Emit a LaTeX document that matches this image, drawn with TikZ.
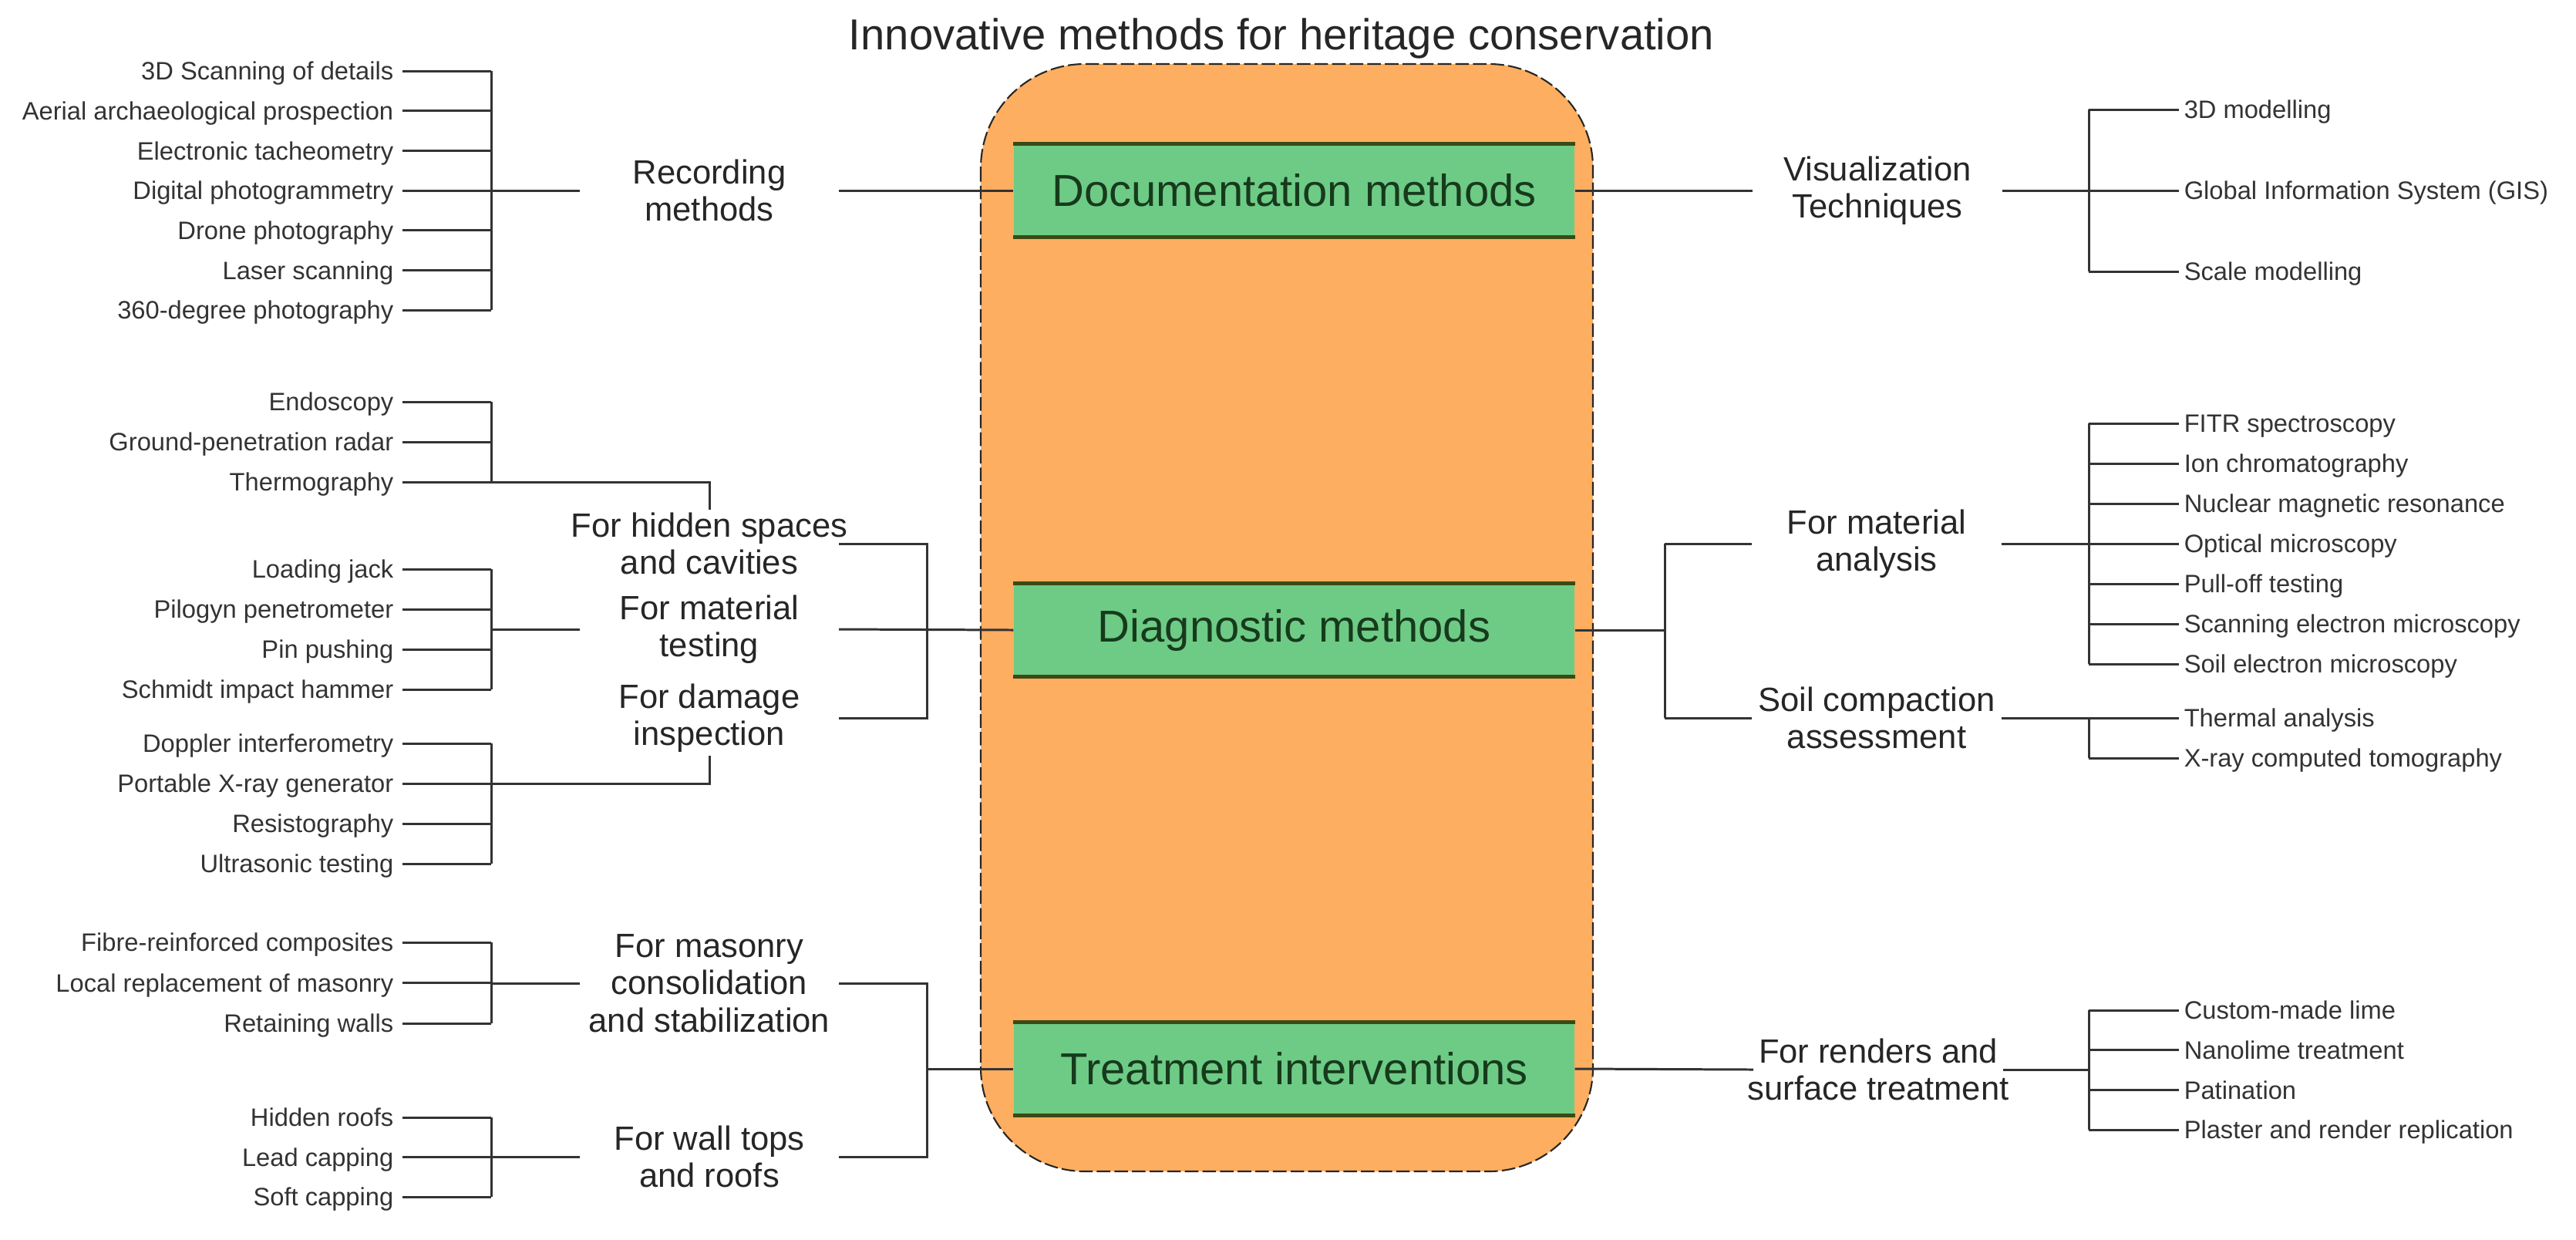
\documentclass[tikz,border=0pt]{standalone}
\usepackage{fontspec}
\setmainfont{Liberation Sans}
\definecolor{apricot}{HTML}{FDAE60}
\definecolor{leafgreen}{HTML}{6DCB86}
\definecolor{moss}{HTML}{3B4A14}
\definecolor{deepgreen}{HTML}{173A1C}
\definecolor{inkgray}{HTML}{333333}
\tikzset{
  % kärna
  hull/.style={draw=black!85,fill=apricot,line width=0.6pt,rounded corners=13.5mm,
               dash pattern=on 5pt off 1.5pt},
  meth/.style={fill=leafgreen,minimum width=7.27cm,minimum height=1.2cm,inner sep=0pt,
               font=\fontsize{16.5}{19}\selectfont,text=deepgreen},
  methedge/.style={draw=moss,line width=1.3pt},
  % grenar
  grp/.style={align=center,inner sep=1pt,font=\fontsize{12.4}{13.8}\selectfont,text=black!85},
  leafl/.style={anchor=east,inner xsep=1.1mm,inner ysep=0pt,text height=6.7pt,text depth=0pt,
                font=\fontsize{9.3}{11}\selectfont,text=black!80},
  leafr/.style={anchor=west,inner xsep=0.6mm,inner ysep=0pt,text height=6.7pt,text depth=0pt,
                font=\fontsize{9.3}{11}\selectfont,text=black!80},
  conn/.style={draw=inkgray,line width=0.85pt},
}
\begin{document}
\begin{tikzpicture}
\useasboundingbox (0,0) rectangle (33.41,-16.07);
  \node[font=\fontsize{16}{19}\selectfont,text=black!85] (title) at (16.62,-0.50) {Innovative methods for heritage conservation};
  \path[hull] (12.72,-0.83) rectangle (20.66,-15.19);
  \node[meth] (doc) at (16.785,-2.47) {Documentation methods};
  \node[meth] (dia) at (16.785,-8.17) {Diagnostic methods};
  \node[meth] (tre) at (16.785,-13.86) {Treatment interventions};
  \foreach \m in {doc,dia,tre}
    \draw[methedge] (\m.north west) -- (\m.north east) (\m.south west) -- (\m.south east);
  \coordinate (lb) at (6.37,0);
  \coordinate (rb) at (27.09,0);
  \coordinate (diab) at (12.02,-8.17);
  \coordinate (diarb) at (21.59,-8.17);
  \coordinate (treb) at (12.02,-13.87);
  \node[grp] (rec) at (9.20,-2.47) {Recording\\methods};
  \node[grp] (vis) at (24.35,-2.47) {Visualization\\Techniques};
  \node[grp] (hid) at (9.20,-7.05) {For hidden spaces\\and cavities};
  \node[grp] (mat) at (9.20,-8.16) {For material\\testing};
  \node[grp] (dam) at (9.20,-9.31) {For damage\\inspection};
  \node[grp] (ana) at (24.34,-7.05) {For material\\analysis};
  \node[grp] (soil) at (24.34,-9.31) {Soil compaction\\assessment};
  \node[grp] (mas) at (9.20,-12.75) {For masonry\\consolidation\\and stabilization};
  \node[grp] (wal) at (9.20,-15.00) {For wall tops\\and roofs};
  \node[grp] (ren) at (24.36,-13.87) {For renders and\\surface treatment};
  \foreach \t [count=\i] in {3D Scanning of details,Aerial archaeological prospection,Electronic tacheometry,
      Digital photogrammetry,Drone photography,Laser scanning,360-degree photography}
    \node[leafl] (rec\i) at (5.22,{-0.92-0.517*(\i-1)}) {\t};
  \foreach \t [count=\i] in {Endoscopy,Ground-penetration radar,Thermography}
    \node[leafl] (hid\i) at (5.22,{-5.21-0.52*(\i-1)}) {\t};
  \foreach \t [count=\i] in {Loading jack,Pilogyn penetrometer,Pin pushing,Schmidt impact hammer}
    \node[leafl] (mat\i) at (5.22,{-7.38-0.52*(\i-1)}) {\t};
  \foreach \t [count=\i] in {Doppler interferometry,Portable X-ray generator,Resistography,Ultrasonic testing}
    \node[leafl] (dam\i) at (5.22,{-9.64-0.52*(\i-1)}) {\t};
  \foreach \t [count=\i] in {Fibre-reinforced composites,Local replacement of masonry,Retaining walls}
    \node[leafl] (mas\i) at (5.22,{-12.22-0.525*(\i-1)}) {\t};
  \foreach \t [count=\i] in {Hidden roofs,Lead capping,Soft capping}
    \node[leafl] (wal\i) at (5.22,{-14.49-0.515*(\i-1)}) {\t};
  \foreach \t [count=\i] in {3D modelling,Global Information System (GIS),Scale modelling}
    \node[leafr] (vis\i) at (28.26,{-1.42-1.05*(\i-1)}) {\t};
  \foreach \t [count=\i] in {FITR spectroscopy,Ion chromatography,Nuclear magnetic resonance,Optical microscopy,
      Pull-off testing,Scanning electron microscopy,Soil electron microscopy}
    \node[leafr] (ana\i) at (28.26,{-5.49-0.52*(\i-1)}) {\t};
  \foreach \t [count=\i] in {Thermal analysis,X-ray computed tomography}
    \node[leafr] (soil\i) at (28.26,{-9.31-0.52*(\i-1)}) {\t};
  \foreach \t [count=\i] in {Custom-made lime,Nanolime treatment,Patination,Plaster and render replication}
    \node[leafr] (ren\i) at (28.26,{-13.10-0.517*(\i-1)}) {\t};
  \foreach \g/\n in {rec/7,hid/3,mat/4,dam/4,mas/3,wal/3} {
    \foreach \i in {1,...,\n} \draw[conn] (\g\i.east) -- (\g\i.east -| lb);
    \draw[conn] (\g1.east -| lb) -- (\g\n.east -| lb);
  }
  \foreach \g/\n in {vis/3,ana/7,soil/2,ren/4} {
    \foreach \i in {1,...,\n} \draw[conn] (\g\i.west -| rb) -- (\g\i.west);
    \draw[conn] (\g1.west -| rb) -- (\g\n.west -| rb);
  }
  \draw[conn] (lb |- rec) -- ([xshift=-16.8mm]rec.center);
  \draw[conn] ([xshift=16.8mm]rec.center) -- (doc.west);
  \draw[conn] (doc.east) -- ([xshift=-16.2mm]vis.center);
  \draw[conn] ([xshift=16.2mm]vis.center) -- (vis -| rb);
  \draw[conn] (hid3.east) -| (hid.north);
  \draw[conn] (dam.south) |- (dam2.east);
  \draw[conn] (lb |- mat) -- ([xshift=-16.8mm]mat.center);
  \draw[conn] ([xshift=16.8mm]hid.center) -- (hid -| diab) -- (dam -| diab) -- ([xshift=16.8mm]dam.center);
  \draw[conn] ([xshift=16.8mm]mat.center) -- (dia.west);
  \draw[conn] (dia.east) -- (diarb);
  \draw[conn] (ana -| diarb) -- (soil -| diarb);
  \draw[conn] (ana -| diarb) -- ([xshift=-16.2mm]ana.center);
  \draw[conn] (soil -| diarb) -- ([xshift=-16.2mm]soil.center);
  \draw[conn] ([xshift=16.2mm]ana.center) -- (ana -| rb);
  \draw[conn] ([xshift=16.2mm]soil.center) -- (soil -| rb);
  \draw[conn] (lb |- mas) -- ([xshift=-16.8mm]mas.center);
  \draw[conn] (lb |- wal) -- ([xshift=-16.8mm]wal.center);
  \draw[conn] ([xshift=16.8mm]mas.center) -- (mas -| treb) -- (wal -| treb) -- ([xshift=16.8mm]wal.center);
  \draw[conn] (tre.west -| treb) -- (tre.west);
  \draw[conn] (tre.east) -- ([xshift=-16.2mm]ren.center);
  \draw[conn] ([xshift=16.2mm]ren.center) -- (ren -| rb);
\end{tikzpicture}
\end{document}
